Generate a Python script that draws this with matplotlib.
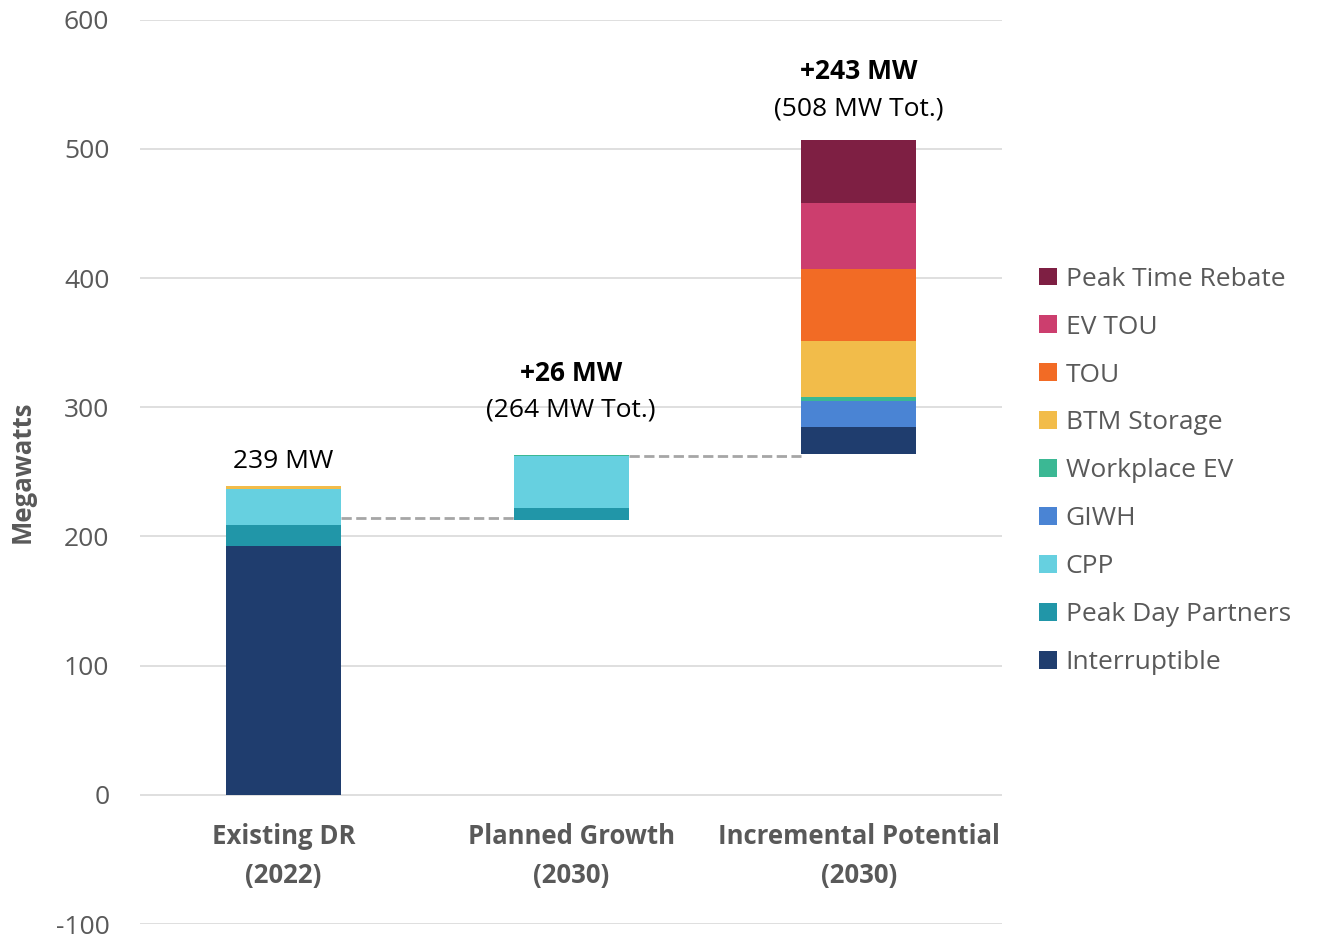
import matplotlib.pyplot as plt
from matplotlib.patches import Patch

plt.rcParams['font.family'] = ['Open Sans', 'DejaVu Sans']
plt.rcParams['axes.unicode_minus'] = False

categories = ['Existing DR\n(2022)', 'Planned Growth\n(2030)', 'Incremental Potential\n(2030)']
series = ['Interruptible', 'Peak Day Partners', 'CPP', 'GIWH', 'Workplace EV',
          'BTM Storage', 'TOU', 'EV TOU', 'Peak Time Rebate']
colors = ['#1F3D6E', '#2196A8', '#66D0E0', '#4A84D4', '#3BB894',
          '#F2BC4A', '#F26B25', '#CC3E6E', '#7E1F43']

# segment values (MW) per category, in stacking order
values = {
    'Interruptible':     [193, 0, 21],
    'Peak Day Partners': [16, 9, 0],
    'CPP':               [28, 40, 0],
    'GIWH':              [0, 0, 20],
    'Workplace EV':      [0, 1, 3],
    'BTM Storage':       [2, 0, 43],
    'TOU':               [0, 0, 56],
    'EV TOU':            [0, 0, 51],
    'Peak Time Rebate':  [0, 0, 49],
}
bases = [0, 213, 264]
connectors = [214, 262]
top_labels = [('', '239 MW'), ('+26 MW', '(264 MW Tot.)'), ('+243 MW', '(508 MW Tot.)')]
# label offsets above the bar top (bold line, normal line)
label_offsets = [(0, 19), (63, 35), (53, 24)]

gray = '#595959'
fig = plt.figure(figsize=(13.19, 9.4), dpi=100)
ax = fig.add_axes([0.106, 0.017, 0.654, 0.962])

x = list(range(len(categories)))
width = 0.40
bottoms = list(bases)
for name, col in zip(series, colors):
    vals = values[name]
    ax.bar(x, vals, width, bottom=bottoms, color=col, zorder=3)
    bottoms = [b + v for b, v in zip(bottoms, vals)]

# dashed connectors between bars
for i, yv in enumerate(connectors):
    ax.plot([x[i] + width / 2, x[i + 1] - width / 2], [yv, yv],
            ls='--', color='#A6A6A6', lw=2, zorder=2)

# labels above bars
for i, (bold, normal) in enumerate(top_labels):
    top = bottoms[i]
    ob, on = label_offsets[i]
    if bold:
        ax.text(x[i], top + ob, bold, ha='center', va='center', fontsize=19,
                fontweight='bold', color='black')
    ax.text(x[i], top + on, normal, ha='center', va='center', fontsize=19, color='black')

# category labels
for i, c in enumerate(categories):
    ax.text(x[i], -22, c, ha='center', va='top', fontsize=18.5, fontweight='bold',
            color=gray, linespacing=1.55)

ax.set_ylim(-100, 600)
ax.set_xlim(-0.5, 2.5)
ax.set_yticks(range(-100, 601, 100))
ax.set_xticks([])
ax.grid(axis='y', color='#D9D9D9', lw=1.2, zorder=0)
for s in ax.spines.values():
    s.set_visible(False)
ax.tick_params(axis='y', length=0, labelsize=19, labelcolor=gray, pad=22)
ax.set_ylabel('Megawatts', fontsize=18.5, fontweight='bold', color=gray, labelpad=14)

handles = [Patch(facecolor=c, label=n) for n, c in zip(series, colors)][::-1]
fig.legend(handles=handles, loc='center left', bbox_to_anchor=(0.77, 0.499),
           frameon=False, fontsize=19, labelcolor=gray, handlelength=0.65,
           handleheight=0.65, handletextpad=0.35, labelspacing=0.87)

fig.savefig('out.png', dpi=100)
